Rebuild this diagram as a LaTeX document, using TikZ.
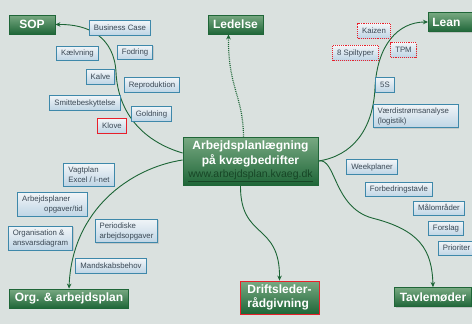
\documentclass[tikz,border=0pt]{standalone}
\usepackage{fontspec}
\setmainfont{Liberation Sans}
\usepackage{xcolor}
\usepackage{tikz}
\usetikzlibrary{positioning, arrows.meta, shadows, backgrounds}
\definecolor{bggray}{HTML}{DAE1DF}
\definecolor{topgreen}{HTML}{78A982}
\definecolor{darkgreen}{HTML}{1F6638}
\definecolor{linegreen}{HTML}{1C6536}
\definecolor{urlgreen}{HTML}{174626}
\definecolor{itemblue}{HTML}{3E88AA}
\definecolor{itemtop}{HTML}{F0F4F7}
\definecolor{itembottom}{HTML}{BFD5E5}
\definecolor{itemtext}{HTML}{3B4854}
\definecolor{markred}{HTML}{E8202A}

\tikzset{
  topic/.style={top color=topgreen, bottom color=darkgreen, draw=darkgreen,
    line width=0.8pt, text=white, font=\fontsize{12}{14}\selectfont\bfseries,
    minimum height=19pt, inner xsep=5pt, inner ysep=2pt,
    drop shadow={shadow xshift=1pt, shadow yshift=-1pt, opacity=0.3}},
  item/.style={top color=itemtop, bottom color=itembottom, draw=itemblue,
    line width=0.9pt, text=itemtext, font=\fontsize{7.8}{10}\selectfont,
    text height=5.8pt, text depth=1.7pt, inner xsep=4.5pt, inner ysep=3.4pt,
    align=left,
    drop shadow={shadow xshift=0.8pt, shadow yshift=-0.8pt, opacity=0.25}},
  twoline/.style={text height=, text depth=, inner ysep=3.2pt},
  redline/.style={draw=markred},
  reddots/.style={draw=markred, densely dotted, line width=1.2pt},
  branch/.style={draw=linegreen, line width=0.9pt,
    -{Stealth[length=5pt, width=4.5pt]}},
}

\begin{document}
\begin{tikzpicture}[x=1pt, y=-1pt]
  \useasboundingbox (0,0) rectangle (472,324);
  \clip (0,0) rectangle (472,324);

  % main topics
  \node[topic, minimum width=135pt, minimum height=48pt, align=center,
        font=\fontsize{12}{15}\selectfont\bfseries] (hub) at (250.5,161)
    {Arbejdsplanlægning\\på kvægbedrifter\\[-2pt]%
     {\fontsize{10.5}{12}\selectfont\mdseries\color{urlgreen}\underline{www.arbejdsplan.kvaeg.dk}}};
  \node[topic, minimum width=46pt] (sop) at (32,24.5) {SOP};
  \node[topic, minimum width=55pt] (ledelse) at (235.5,24.5) {Ledelse};
  \node[topic, anchor=west, text width=52pt, align=left, inner xsep=4pt] (lean) at (428,22) {Lean};
  \node[topic, minimum width=118pt] (org) at (69,298.5) {Org. \& arbejdsplan};
  \node[topic, minimum width=77pt] (tavle) at (433,297) {Tavlemøder};
  \node[topic, draw=markred, minimum width=79pt, minimum height=33pt, align=left,
        font=\fontsize{12}{13.5}\selectfont\bfseries] (drift) at (279.5,297.5)
    {Driftsleder-\\rådgivning};

  % SOP items
  \node[item] (bcase) at (120,28) {Business Case};
  \node[item] (kaelv) at (77.5,53.5) {Kælvning};
  \node[item] (fodring) at (135,52.5) {Fodring};
  \node[item] (kalve) at (100.5,77) {Kalve};
  \node[item] (repro) at (152,85) {Reproduktion};
  \node[item] (smitte) at (85,103) {Smittebeskyttelse};
  \node[item] (goldning) at (151.5,114) {Goldning};
  \node[item, redline] (klove) at (112,126) {Klove};

  % Lean items
  \node[item, reddots] (kaizen) at (374,31) {Kaizen};
  \node[item, reddots] (spil) at (355.5,53) {8 Spiltyper};
  \node[item, reddots] (tpm) at (403.5,50) {TPM};
  \node[item] (fem) at (385,85) {5S};
  \node[item, twoline, text width=76pt] (vaerdi) at (415.5,116) {Værdistrømsanalyse\\(logistik)};

  % organisation items
  \node[item, twoline] (vagt) at (89,175) {Vagtplan\\Excel / I-net};
  \node[item, twoline] (arbpl) at (52.5,204.5) {Arbejdsplaner\\\hspace*{22pt}opgaver/tid};
  \node[item, twoline] (organ) at (40.5,238.5) {Organisation \&\\ansvarsdiagram};
  \node[item, twoline] (period) at (126.5,231) {Periodiske\\arbejdsopgaver};
  \node[item] (mandsk) at (111,266) {Mandskabsbehov};

  % tavle items
  \node[item] (week) at (372,167) {Weekplaner};
  \node[item] (forbedr) at (399,189.5) {Forbedringstavle};
  \node[item] (maal) at (439,208.5) {Målområder};
  \node[item] (forslag) at (446,228.5) {Forslag};
  \node[item, anchor=west] (prio) at (438,248.5) {Prioriter};

  \begin{scope}[on background layer]
    \fill[bggray] (0,0) rectangle (472,324);
    % branches
    \draw[branch] ([yshift=8pt]hub.west) .. controls (145,142) and (118,115) .. (116,72)
      .. controls (114,38) and (90,24) .. (sop.east);
    \draw[branch] ([yshift=1pt]hub.west) .. controls (130,168) and (72,210) .. (org.north);
    \draw[branch, densely dotted, line width=1.2pt] ([xshift=-7pt]hub.north)
      .. controls (243,95) and (228,88) .. ([xshift=-7pt]ledelse.south);
    \draw[branch] ([xshift=-10pt]hub.south) .. controls (240,240) and (280,222) .. (drift.north);
    \draw[branch] (hub.east) .. controls (352,156) and (373,130) .. (375,88)
      .. controls (377,45) and (398,22) .. (lean.west);
    \draw[branch] (hub.east) .. controls (336,157) and (333,207) .. (372,218)
      .. controls (420,230) and (432,250) .. (tavle.north);
  \end{scope}
\end{tikzpicture}
\end{document}
